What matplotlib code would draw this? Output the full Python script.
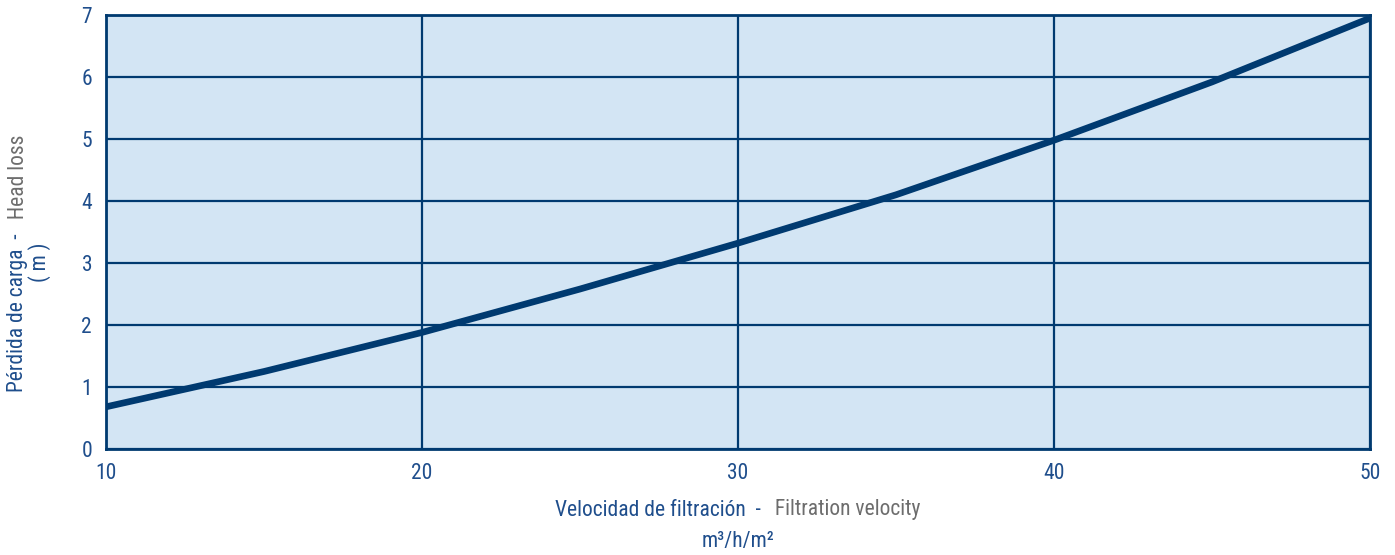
import matplotlib
matplotlib.use("Agg")
import matplotlib.pyplot as plt
from matplotlib import font_manager

# curve (velocity m3/h/m2 -> head loss m)
velocity = [10, 15, 20, 25, 30, 35, 40, 45, 50]
head_loss = [0.68, 1.25, 1.88, 2.58, 3.32, 4.1, 4.98, 5.92, 6.95]
x_ticks = [10, 20, 30, 40, 50]
y_ticks = [0, 1, 2, 3, 4, 5, 6, 7]

NAVY = "#003a70"
BLUE = "#1f4e8c"
GREY = "#6d6d6d"
FILL = "#d3e5f4"

names = {f.name for f in font_manager.fontManager.ttflist}
font = "DejaVu Sans"
for cand in ["Roboto Condensed", "Liberation Sans Narrow", "Open Sans Condensed"]:
    if cand in names:
        font = cand
        break
plt.rcParams["font.family"] = [font, "DejaVu Sans"]
plt.rcParams["font.stretch"] = "condensed"

fig = plt.figure(figsize=(13.95, 5.55), dpi=100)
ax = fig.add_axes([106 / 1395, 1 - 449 / 555, (1370 - 106) / 1395, (449 - 15) / 555])
ax.set_facecolor(FILL)
ax.plot(velocity, head_loss, color=NAVY, lw=4.8, solid_capstyle="butt",
        solid_joinstyle="round", zorder=3)
ax.set_xlim(10, 50)
ax.set_ylim(0, 7)
ax.set_xticks(x_ticks)
ax.set_yticks(y_ticks)
ax.grid(True, color=NAVY, lw=1.6, zorder=1)
ax.set_axisbelow(True)
for s in ax.spines.values():
    s.set_color(NAVY)
    s.set_linewidth(2)
ax.tick_params(length=0, labelcolor=BLUE, labelsize=15.5, pad=10)

# x label, two colours
fig.text(766 / 1395, 1 - 510 / 555, "Velocidad de filtración  - ", color=BLUE,
         fontsize=15.5, ha="right", va="center")
fig.text(770 / 1395, 1 - 510 / 555, " Filtration velocity", color=GREY,
         fontsize=15.5, ha="left", va="center")
fig.text(738 / 1395, 1 - 541 / 555, "m³/h/m²", color=BLUE,
         fontsize=15.5, ha="center", va="center")

# y label, two colours, rotated
fig.text(18 / 1395, 1 - 228 / 555, "Pérdida de carga  - ", color=BLUE, fontsize=15.5,
         rotation=90, rotation_mode="anchor", ha="right", va="center")
fig.text(18 / 1395, 1 - 224 / 555, " Head loss", color=GREY, fontsize=15.5,
         rotation=90, rotation_mode="anchor", ha="left", va="center")
fig.text(40 / 1395, 1 - 262 / 555, "( m )", color=BLUE, fontsize=15.5,
         rotation=90, rotation_mode="anchor", ha="center", va="center")

fig.savefig("out.png", dpi=100)
